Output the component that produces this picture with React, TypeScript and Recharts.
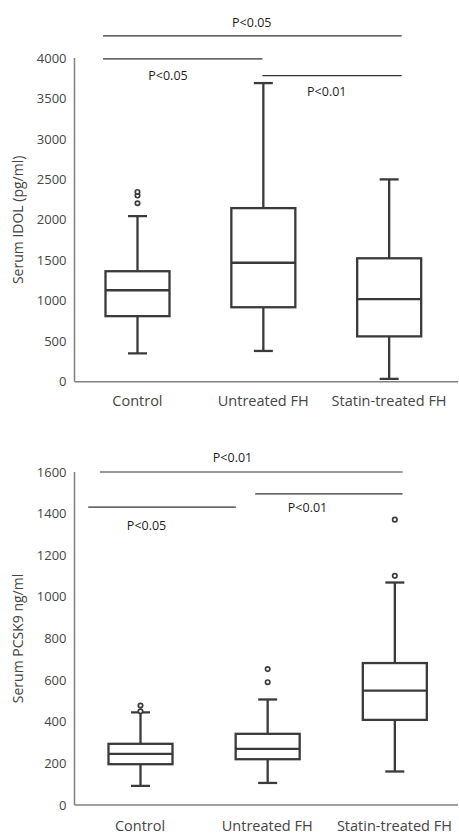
import { Bar, ComposedChart, ReferenceDot, ReferenceLine, XAxis, YAxis } from "recharts";

const categories = ["Control", "Untreated FH", "Statin-treated FH"];

// Serum IDOL (pg/ml)
const idolMin = [350, 380, 35];
const idolQ1 = [810, 920, 560];
const idolMedian = [1130, 1470, 1020];
const idolQ3 = [1365, 2145, 1525];
const idolMax = [2045, 3690, 2500];
const idolOutliers = [[2205, 2300, 2345], [], []];
const idolTicks = [0, 500, 1000, 1500, 2000, 2500, 3000, 3500, 4000];

// Serum PCSK9 ng/ml
const pcskMin = [92, 106, 161];
const pcskQ1 = [196, 220, 409];
const pcskMedian = [246, 270, 550];
const pcskQ3 = [294, 342, 682];
const pcskMax = [445, 507, 1069];
const pcskOutliers = [[450, 478], [590, 653], [1101, 1371]];
const pcskTicks = [0, 200, 400, 600, 800, 1000, 1200, 1400, 1600];

// significance bars: span in group units (1 = first group), level in data units
const idolSigFrom = [0.727, 0.727, 1.993];
const idolSigTo = [3.1, 1.993, 3.1];
const idolSigLevel = [4273, 3989, 3782];
const idolSigText = ["P<0.05", "P<0.05", "P<0.01"];
const idolSigTextX = [1.909, 1.243, 2.505];
const idolSigTextY = [4434, 3779, 3581];

const pcskSigFrom = [0.684, 1.905, 0.592];
const pcskSigTo = [3.064, 3.064, 1.753];
const pcskSigLevel = [1600, 1495, 1431];
const pcskSigText = ["P<0.01", "P<0.01", "P<0.05"];
const pcskSigTextX = [1.727, 2.317, 1.051];
const pcskSigTextY = [1668, 1428, 1342];

const BOX_STROKE = "#3a3a3a";
const AXIS_GRAY = "#808080";
const TICK_GRAY = "#454545";
const FONT = "'Open Sans', sans-serif";

type Row = {
  pos: number;
  min: number;
  q1: number;
  median: number;
  q3: number;
  max: number;
  outliers: number[];
};

function buildRows(
  min: number[],
  q1: number[],
  median: number[],
  q3: number[],
  max: number[],
  outliers: number[][],
): Row[] {
  return categories.map((_, i) => ({
    pos: i + 1,
    min: min[i],
    q1: q1[i],
    median: median[i],
    q3: q3[i],
    max: max[i],
    outliers: outliers[i],
  }));
}

function BoxShape(props: any) {
  const { x, y, width, height, payload } = props;
  if (!payload) return null;
  const top = Math.min(y, y + height);
  const h = Math.abs(height);
  const span = payload.max - payload.min;
  const py = (v: number) => top + ((payload.max - v) / span) * h;
  const cx = x + width / 2;
  const cap = 19;
  const yQ1 = py(payload.q1);
  const yQ3 = py(payload.q3);
  return (
    <g stroke={BOX_STROKE} strokeWidth={2.3} fill="none">
      <line x1={cx} x2={cx} y1={py(payload.max)} y2={yQ3} />
      <line x1={cx} x2={cx} y1={yQ1} y2={py(payload.min)} />
      <line x1={cx - cap / 2} x2={cx + cap / 2} y1={py(payload.max)} y2={py(payload.max)} />
      <line x1={cx - cap / 2} x2={cx + cap / 2} y1={py(payload.min)} y2={py(payload.min)} />
      <rect x={x} y={yQ3} width={width} height={yQ1 - yQ3} />
      <line x1={x} x2={x + width} y1={py(payload.median)} y2={py(payload.median)} />
      {payload.outliers.map((v: number, i: number) => (
        <circle key={i} cx={cx} cy={py(v)} r={2.2} fill="#fff" strokeWidth={1.7} />
      ))}
    </g>
  );
}

type PanelProps = {
  rows: Row[];
  ticks: number[];
  yLabel: string;
  height: number;
  marginTop: number;
  axisHeight: number;
  padLeft: number;
  padRight: number;
  tickMargin: number;
  sigFrom: number[];
  sigTo: number[];
  sigLevel: number[];
  sigText: string[];
  sigTextX: number[];
  sigTextY: number[];
};

function BoxPanel(p: PanelProps) {
  const domainMax = p.ticks[p.ticks.length - 1];
  return (
    <ComposedChart
      width={459}
      height={p.height}
      data={p.rows}
      margin={{ top: p.marginTop, right: 1, bottom: 0, left: 0 }}
      style={{ fontFamily: FONT }}
    >
      <XAxis
        dataKey="pos"
        type="number"
        domain={[0.5, 3.5]}
        allowDataOverflow
        ticks={[1, 2, 3]}
        tickFormatter={(v: number) => categories[v - 1] ?? ""}
        height={p.axisHeight}
        padding={{ left: p.padLeft, right: p.padRight }}
        tickLine={false}
        tickMargin={p.tickMargin}
        axisLine={{ stroke: AXIS_GRAY, strokeWidth: 1.5 }}
        tick={{ fill: TICK_GRAY, fontSize: 14.5, fontFamily: FONT }}
        interval={0}
      />
      <YAxis
        width={74.5}
        domain={[0, domainMax]}
        ticks={p.ticks}
        interval={0}
        tickLine={false}
        axisLine={{ stroke: AXIS_GRAY, strokeWidth: 1.5 }}
        tick={{ fill: TICK_GRAY, fontSize: 13, fontFamily: FONT }}
        label={{
          value: p.yLabel,
          angle: -90,
          position: "insideLeft",
          offset: 18,
          fill: TICK_GRAY,
          fontSize: 14,
          fontFamily: FONT,
          style: { textAnchor: "middle", fill: TICK_GRAY },
        }}
      />
      <Bar
        dataKey={(d: Row) => [d.min, d.max]}
        barSize={64}
        shape={BoxShape}
        isAnimationActive={false}
      />
      {p.sigLevel.map((lvl, i) => (
        <ReferenceLine
          key={`l${i}`}
          ifOverflow="visible"
          stroke="#333"
          strokeWidth={1.1}
          segment={[
            { x: p.sigFrom[i], y: lvl },
            { x: p.sigTo[i], y: lvl },
          ]}
        />
      ))}
      {p.sigText.map((t, i) => (
        <ReferenceDot
          key={`t${i}`}
          x={p.sigTextX[i]}
          y={p.sigTextY[i]}
          r={0}
          fill="none"
          stroke="none"
          ifOverflow="visible"
          label={{ value: t, position: "center", fill: "#1e1e1e", fontSize: 12.5, fontFamily: FONT }}
        />
      ))}
    </ComposedChart>
  );
}

export default function App() {
  const idolRows = buildRows(idolMin, idolQ1, idolMedian, idolQ3, idolMax, idolOutliers);
  const pcskRows = buildRows(pcskMin, pcskQ1, pcskMedian, pcskQ3, pcskMax, pcskOutliers);
  return (
    <div style={{ position: "absolute", top: 0, left: 0, width: 459, background: "#fff" }}>
      <BoxPanel
        rows={idolRows}
        ticks={idolTicks}
        yLabel="Serum IDOL (pg/ml)"
        height={420}
        marginTop={58}
        axisHeight={38.3}
        padLeft={0}
        padRight={6}
        tickMargin={8}
        sigFrom={idolSigFrom}
        sigTo={idolSigTo}
        sigLevel={idolSigLevel}
        sigText={idolSigText}
        sigTextX={idolSigTextX}
        sigTextY={idolSigTextY}
      />
      <BoxPanel
        rows={pcskRows}
        ticks={pcskTicks}
        yLabel="Serum PCSK9 ng/ml"
        height={414}
        marginTop={52}
        axisHeight={29}
        padLeft={2}
        padRight={0}
        tickMargin={10}
        sigFrom={pcskSigFrom}
        sigTo={pcskSigTo}
        sigLevel={pcskSigLevel}
        sigText={pcskSigText}
        sigTextX={pcskSigTextX}
        sigTextY={pcskSigTextY}
      />
    </div>
  );
}
